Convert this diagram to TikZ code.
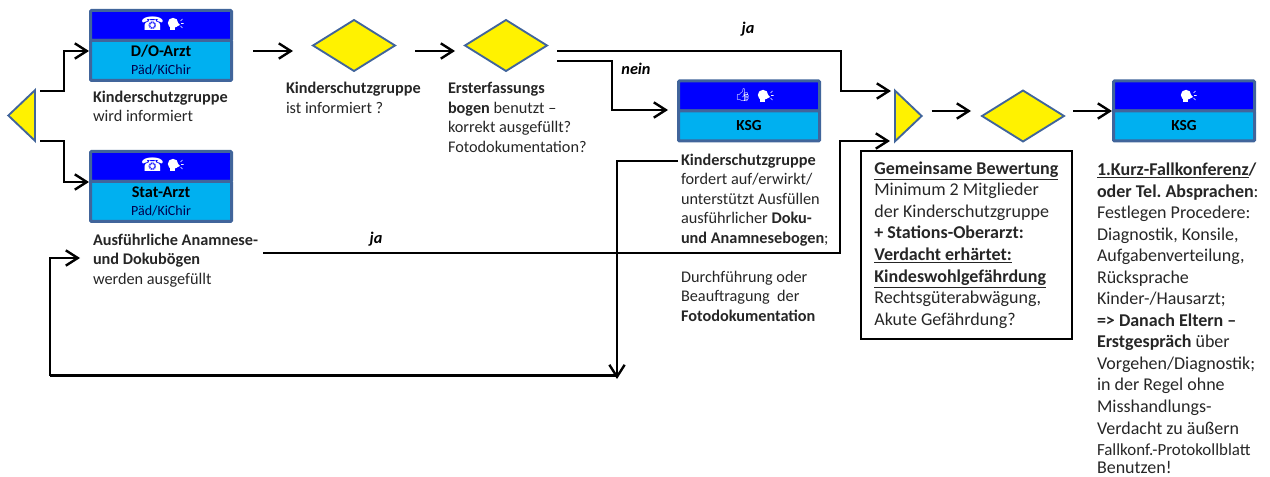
\documentclass[tikz,border=0pt]{standalone}
\usepackage{fontspec}
\setmainfont{Carlito}
\newfontfamily\iconfont{Noto Emoji}
\newfontfamily\phonefont{DejaVu Sans}
\usetikzlibrary{calc}
\usetikzlibrary{arrows.meta}
\usetikzlibrary{shapes.geometric}
\definecolor{bordblue}{RGB}{65,101,155}
\definecolor{headblue}{RGB}{0,0,255}
\definecolor{bodyblue}{RGB}{0,176,240}
\newcommand*{\bxw}{105.75pt}
\newcommand*{\smallfs}{\fontsize{10.5pt}{14pt}\selectfont}
\newcommand*{\leftfs}{\fontsize{12.2pt}{14.6pt}\selectfont}
\newcommand*{\bigfs}{\fontsize{13.5pt}{16.15pt}\selectfont}
\newcommand*{\phone}{{\phonefont\char"260E}}
\newcommand*{\thumb}{{\iconfont\char"1F44D}}
\newcommand*{\arzttxt}[2]{\raisebox{-1pt}{\textbf{#1}}\\[-1pt]\raisebox{-1pt}{\smallfs\color{blue!30!black}#2}}
\frenchspacing
\tikzset{
    headbox/.style = {draw=bordblue, fill=headblue, line width=2.25pt, rounded corners=0.7pt, inner sep=0pt, outer sep=0pt, minimum width=\bxw, minimum height=22.5pt},
    bodybox/.style = {draw=bordblue, fill=bodyblue, line width=2.25pt, rounded corners=0.7pt, inner sep=0pt, outer sep=0pt, minimum width=\bxw, align=center},
    iconmark/.style = {inner sep=0pt, text=white},
    yeldia/.style  = {diamond, draw=bordblue, fill=yellow, line width=1.4pt, inner sep=0pt, outer sep=0pt, minimum width=61.5pt, minimum height=38.25pt},
    yeltri/.style  = {isosceles triangle, isosceles triangle stretches, draw=bordblue, fill=yellow, line width=1.4pt, inner sep=0pt, outer sep=0pt, minimum width=38pt, minimum height=20pt, anchor=lower side},
    flow/.style    = {draw=black, line width=1.8pt, -{Straight Barb[length=9pt,width=11.5pt,line width=1.8pt]}},
    connline/.style = {draw=black, line width=1.8pt},
    lbl/.style     = {align=flush left, inner sep=0pt, outer sep=0pt, anchor=north west, text=black!85, font=\leftfs},
    lblbig/.style  = {align=flush left, inner sep=0pt, outer sep=0pt, anchor=north west, text=black!85, font=\bigfs},
    tag/.style     = {inner sep=0pt, font=\leftfs\bfseries\itshape},
    speakhead/.pic = {
        \fill [white] (-2,-1) circle (5.2);
        \fill [white] (-5,2) rectangle (0,6.5);
        \fill [white] (2,-2) -- (5,1) -- (1,3) -- cycle;
        \draw [white, line width=0.5pt] (5.5,-3) -- (7.5,-5) (6,-0.5) -- (8.5,-0.5) (5.5,2) -- (7.5,4);
    }
}
\begin{document}
\begin{tikzpicture}[x=0.75pt,y=-0.75pt]
    \useasboundingbox (0,0) rectangle (1270,477);
    % entry
    \node [yeltri, shape border rotate=180] (trigA) at (35,115.5) {};
    % arzt boxes
    \node [headbox] (doarztH) at (161,25.5) {};
    \node [iconmark, font=\fontsize{14pt}{14pt}\selectfont] (doarztP) at (152.5,24) {\phone};
    \pic at (175,24) {speakhead};
    \node [bodybox, minimum height=30pt, font=\leftfs] (doarztB) at (161,60.5) {\arzttxt{D/O-Arzt}{Päd/KiChir}};
    \node [headbox] (statH) at (161,166.5) {};
    \node [iconmark, font=\fontsize{14pt}{14pt}\selectfont] (statP) at (152.5,165) {\phone};
    \pic at (175,165) {speakhead};
    \node [bodybox, minimum height=30pt, font=\leftfs] (statB) at (161,201.5) {\arzttxt{Stat-Arzt}{Päd/KiChir}};
    \node [lbl] (txtkind) at (93,91) {\textbf{Kinderschutzgruppe}\\wird informiert};
    \node [lbl] (txtanam) at (93,234) {\textbf{Ausführliche Anamnese-}\\\textbf{und Dokubögen}\\werden ausgefüllt};
    % decisions
    \node [yeldia] (diaA) at (354,45.5) {};
    \node [yeldia] (diaB) at (506,45.5) {};
    \node [lbl] (txtinfo) at (286,82.5) {\textbf{Kinderschutzgruppe}\\ist informiert ?};
    \node [lbl] (txterst) at (448,82.5) {\textbf{Ersterfassungs}\\\textbf{bogen} benutzt --\\korrekt ausgefüllt?\\Fotodokumentation?};
    % ksg
    \node [headbox] (ksgAH) at (749,96) {};
    \node [iconmark, font=\fontsize{9.5pt}{9.5pt}\selectfont] (ksgAP) at (743,95) {\thumb};
    \pic at (765,96) {speakhead};
    \node [bodybox, minimum height=22.5pt, font=\fontsize{11.5pt}{14pt}\selectfont\bfseries] (ksgAB) at (749,126) {KSG};
    \node [lbl] (txtksg) at (681,154) {\textbf{Kinderschutzgruppe}\\fordert auf/erwirkt/\\unterstützt Ausfüllen\\ausführlicher \textbf{Doku-}\\\textbf{und Anamnesebogen};\\[14.6pt]Durchführung oder\\Beauftragung\ \ der\\\textbf{Fotodokumentation}};
    % bewertung
    \node [yeltri] (trigB) at (895,116) {};
    \node [yeldia] (diaC) at (1023,116) {};
    \node [lblbig, draw=black, line width=1.1pt, minimum height=141pt, inner xsep=10pt, inner ysep=7.7pt, text width=138.25pt] (txtbew) at (861,151) {\textbf{\underline{Gemeinsame Bewertung}}\\Minimum 2 Mitglieder\\der Kinderschutzgruppe\\\textbf{+ Stations-Oberarzt:}\\\textbf{\underline{Verdacht erhärtet:}}\\\textbf{\underline{Kindeswohlgefährdung}}\\Rechtsgüterabwägung,\\Akute Gefährdung?};
    \node [headbox] (ksgBH) at (1184,96) {};
    \pic at (1188,96) {speakhead};
    \node [bodybox, minimum height=22.5pt, font=\fontsize{11.5pt}{14pt}\selectfont\bfseries] (ksgBB) at (1184,126) {KSG};
    \node [lblbig] (txtfall) at (1097,163) {\textbf{\underline{1.Kurz-Fallkonferenz}/}\\\textbf{oder Tel. Absprachen}:\\Festlegen Procedere:\\Diagnostik, Konsile,\\Aufgabenverteilung,\\Rücksprache\\Kinder-/Hausarzt;\\\textbf{=> Danach Eltern --}\\\textbf{Erstgespräch} über\\Vorgehen/Diagnostik;\\in der Regel ohne\\Misshandlungs-\\Verdacht zu äußern\\\fontsize{12.7pt}{14pt}\selectfont Fallkonf.-Protokollblatt\\[-2.8pt]Benutzen!};
    % labels on the lines
    \node [tag] (tagjaA) at (748,29) {ja};
    \node [tag] (tagnein) at (636,69) {nein};
    \node [tag] (tagjaB) at (376,239) {ja};
    % connectors
    \draw [flow] ($(trigA.lower side)+(5,-24.5)$) -- ++(24,0) |- ($(doarztB.west)+(-1.5,-9.5)$);
    \draw [flow] ($(trigA.lower side)+(5,25.5)$) -- ++(24,0) |- ($(statB.west)+(-1.5,-19.5)$);
    \draw [flow] ($(doarztB.north east)+(21.5,10.5)$) -- ($(diaA.west)+(-20,5.5)$);
    \draw [flow] ($(diaA.east)+(20,5.5)$) -- ($(diaB.west)+(-10,5.5)$);
    \draw [flow] ($(diaB.east)+(10,5.5)$) -- ++(284,0) |- ($(trigB.lower side)+(-4,-25)$);
    \draw [flow] ($(diaB.east)+(10,15.5)$) -- ++(55,0) |- ($(ksgAH.south west)+(-10.5,-1)$);
    \draw [flow] ($(txtanam.north west)+(170,19)$) -- (840,253) |- ($(trigB.lower side)+(-5,25)$);
    \draw [flow] ($(txtksg.north west)+(-3,7)$) -- ++(-61,0) -- ++(0,218);
    \draw [connline] (617,375.5) coordinate (loopstart) -- (50,375.5) coordinate (loopturn);
    \draw [flow] (loopturn) |- ($(txtanam.north west)+(-13,24)$);
    \draw [flow] ($(trigB.east)+(10,-5)$) -- ($(diaC.west)+(-11,-5)$);
    \draw [flow] ($(diaC.east)+(9,-5)$) -- ($(ksgBH.south west)+(-1.5,0)$);
\end{tikzpicture}
\end{document}
